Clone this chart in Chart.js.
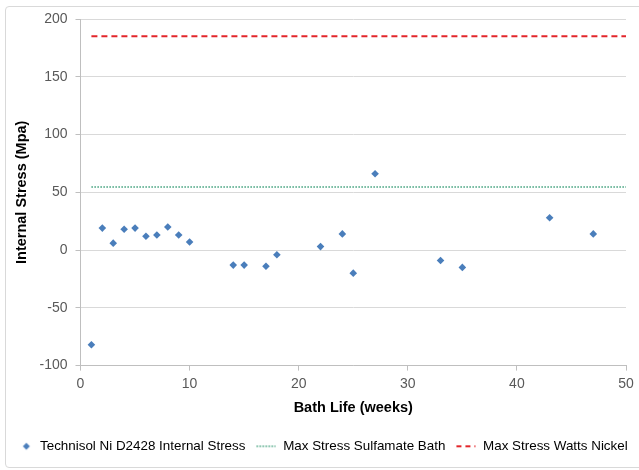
<!DOCTYPE html>
<html>
<head>
<meta charset="utf-8">
<script src="https://cdn.jsdelivr.net/npm/chart.js@4.4.0/dist/chart.umd.min.js"></script>
<style>
  html, body { margin: 0; padding: 0; background: #fff; }
  #wrap { position: relative; width: 639px; height: 470px; overflow: hidden; }
  #frame { position: absolute; left: 5px; top: 6px; width: 660px; height: 460px; border: 1px solid #d9d9d9; border-radius: 4px; }
  canvas { position: absolute; left: 0; top: 0; }
</style>
</head>
<body>
<div id="wrap">
  <div id="frame"></div>
  <canvas id="chart" width="639" height="470"></canvas>
</div>
<script>
// weeks of bath life and measured internal stress (MPa)
var weeks = [1, 2, 3, 4, 5, 6, 7, 8, 9, 10, 14, 15, 17, 18, 22, 24, 25, 27, 33, 35, 43, 47];
var stress = [-82, 19, 6, 18, 19, 12, 13, 20, 13, 7, -13, -13, -14, -4, 3, 14, -20, 66, -9, -15, 28, 14];

// limit lines
var limitWeeks = [1, 50];
var sulfamateMax = [54.5, 54.5];
var wattsMax = [185, 185];

var seriesNames = ["Technisol Ni D2428 Internal Stress", "Max Stress Sulfamate Bath", "Max Stress Watts Nickel"];

function toPoints(xs, ys) {
    return xs.map(function(x, i) { return { x: x, y: ys[i] }; });
}

// little pictures for the legend symbols
function legendIcon(kind, color) {
    var c = document.createElement("canvas");
    c.width = 22;
    c.height = 10;
    var g = c.getContext("2d");
    if (kind == "diamond") {
        g.fillStyle = color;
        g.beginPath();
        g.moveTo(15, 1.5); g.lineTo(18.5, 5); g.lineTo(15, 8.5); g.lineTo(11.5, 5);
        g.closePath();
        g.fill();
    } else {
        g.strokeStyle = color;
        g.lineWidth = kind == "dash" ? 2 : 1.5;
        g.setLineDash(kind == "dash" ? [5, 4] : [1.5, 1.5]);
        g.beginPath();
        g.moveTo(2, 5); g.lineTo(21, 5);
        g.stroke();
    }
    return c;
}

var blue = "#4a7ebb";
var green = "#3fa07c";
var red = "#e3262b";
var icons = [legendIcon("diamond", blue), legendIcon("dot", green), legendIcon("dash", red)];

var ctx = document.getElementById("chart").getContext("2d");

var chart = new Chart(ctx, {
    type: "scatter",
    data: {
        datasets: [
            {
                label: seriesNames[0],
                data: toPoints(weeks, stress),
                pointStyle: "rectRot",
                pointRadius: 3.8,
                backgroundColor: blue,
                borderColor: blue,
                borderWidth: 0
            },
            {
                label: seriesNames[1],
                type: "line",
                data: toPoints(limitWeeks, sulfamateMax),
                borderColor: green,
                borderWidth: 1.5,
                borderDash: [1.5, 1.5],
                pointRadius: 0
            },
            {
                label: seriesNames[2],
                type: "line",
                data: toPoints(limitWeeks, wattsMax),
                borderColor: red,
                borderWidth: 2,
                borderDash: [6, 4],
                pointRadius: 0
            }
        ]
    },
    options: {
        responsive: false,
        animation: false,
        layout: { padding: { left: 0, right: 0, top: 19, bottom: 7 } },
        scales: {
            x: {
                type: "linear",
                min: 0,
                max: 50,
                ticks: { stepSize: 10, color: "#595959", padding: 5, font: { family: "Liberation Sans", size: 14 } },
                grid: { drawOnChartArea: false, drawTicks: true, tickLength: 5, tickColor: "#bfbfbf" },
                border: { color: "#bfbfbf" },
                title: { display: true, text: "Bath Life (weeks)", color: "#000", padding: { top: 4, bottom: 14 },
                         font: { family: "Liberation Sans", size: 14.5, weight: "bold" } },
                afterFit: function(scale) {
                    scale.height = 65;
                    // keep the plot's right edge off the frame without narrowing the legend row
                    scale.paddingRight = 13;
                }
            },
            y: {
                min: -100,
                max: 200,
                ticks: { stepSize: 50, color: "#595959", padding: 8, font: { family: "Liberation Sans", size: 14 } },
                grid: { color: "#d9d9d9", tickLength: 5, tickColor: "#bfbfbf" },
                border: { color: "#bfbfbf" },
                title: { display: true, text: "Internal Stress (Mpa)", color: "#000", padding: { top: 13, bottom: 13 },
                         font: { family: "Liberation Sans", size: 14.5, weight: "bold" } },
                afterFit: function(scale) { scale.width = 80.5; }
            }
        },
        plugins: {
            tooltip: { enabled: false },
            legend: {
                position: "bottom",
                labels: {
                    usePointStyle: true,
                    pointStyleWidth: 22,
                    boxHeight: 10,
                    padding: 9,
                    color: "#000",
                    font: { family: "Liberation Sans", size: 13.4 },
                    generateLabels: function(ch) {
                        return ch.data.datasets.map(function(ds, i) {
                            return {
                                text: ds.label,
                                pointStyle: icons[i],
                                fillStyle: "transparent",
                                strokeStyle: "transparent",
                                lineWidth: 0,
                                datasetIndex: i,
                                hidden: false
                            };
                        });
                    }
                }
            }
        }
    }
});
</script>
</body>
</html>
